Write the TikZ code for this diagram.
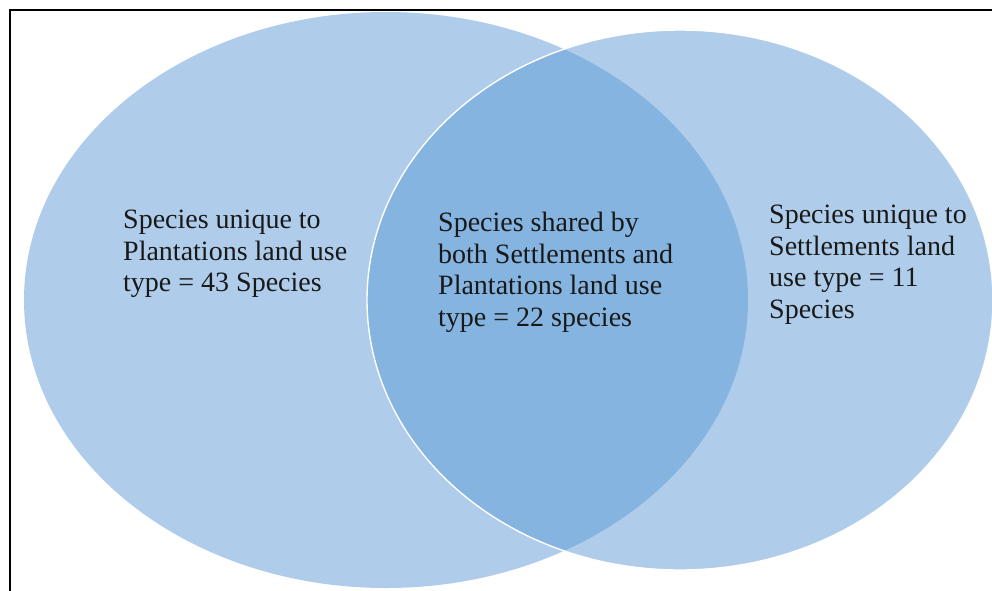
\documentclass[tikz,border=0pt]{standalone}
\usepackage{fontspec}
\setmainfont{Liberation Serif}
\definecolor{setlight}{RGB}{175,205,234}
\definecolor{setdark}{RGB}{132,180,223}
\begin{document}
\begin{tikzpicture}[x=1pt,y=-1pt,
  label text/.style={anchor=north west,inner sep=0pt,align=left,
    font=\fontsize{28}{31.6}\selectfont,text=black!90}]
\useasboundingbox (0,0) rectangle (992,590);
% Plantations set
\fill[setlight] (386,300) ellipse [x radius=362, y radius=288];
% Settlements set
\fill[setlight] (680,300) ellipse [x radius=313, y radius=270];
% Shared region
\begin{scope}
  \clip (386,300) ellipse [x radius=362, y radius=288];
  \fill[setdark] (680,300) ellipse [x radius=313, y radius=270];
\end{scope}
\draw[white,line width=1.4pt] (680,300) ellipse [x radius=313, y radius=270];
% Frame
\draw[black,line width=1.8pt] (10.2,600) -- (10.2,10.2) -- (1000,10.2);
% Labels
\node[label text] (plant) at (123,210) {Species unique to\\Plantations land use\\type = 43 Species};
\node[label text] (shared) at (438,212) {Species shared by\\both Settlements and\\Plantations land use\\type = 22 species};
\node[label text] (settle) at (769,205) {Species unique to\\Settlements land\\use type = 11\\Species};
\end{tikzpicture}
\end{document}
